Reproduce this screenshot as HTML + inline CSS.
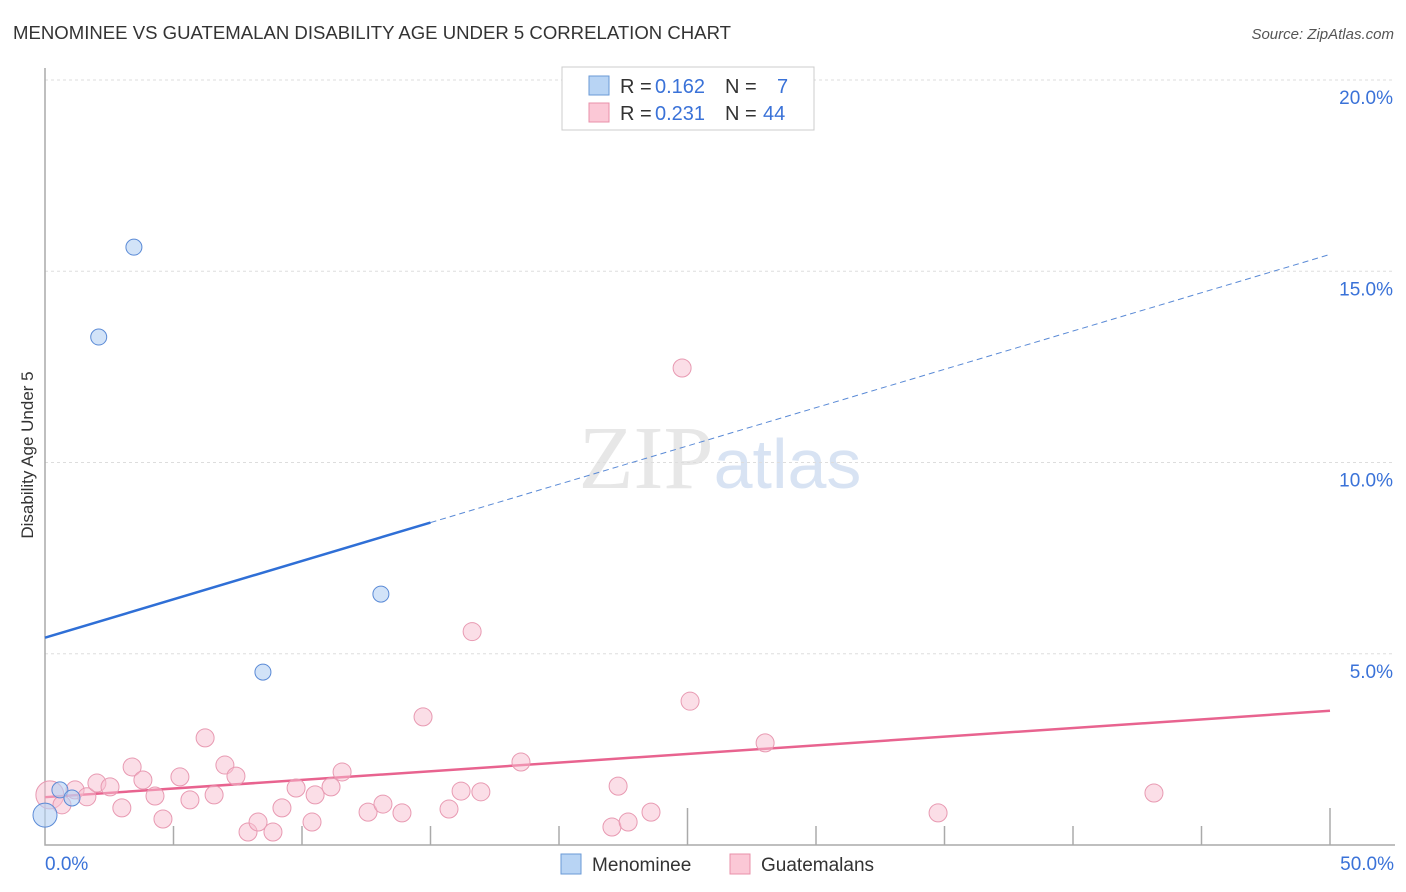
<!DOCTYPE html>
<html><head><meta charset="utf-8"><style>
body{margin:0;background:#fff;font-family:"Liberation Sans",sans-serif}
</style></head><body>
<svg id="chart" width="1406" height="892" xmlns="http://www.w3.org/2000/svg" style="display:block">
<text x="13" y="39" font-size="18" fill="#333" textLength="718" lengthAdjust="spacingAndGlyphs">MENOMINEE VS GUATEMALAN DISABILITY AGE UNDER 5 CORRELATION CHART</text>
<text x="1394" y="39" font-size="15" fill="#555" text-anchor="end" font-style="italic">Source: ZipAtlas.com</text>
<text x="720" y="488" font-size="90" text-anchor="middle" font-family="Liberation Serif" fill="#ddd" opacity="0.7">ZIP<tspan font-family="Liberation Sans" fill="#c8d8ee" font-size="70">atlas</tspan></text>
<text transform="translate(33,455) rotate(-90)" font-size="17" fill="#333" text-anchor="middle">Disability Age Under 5</text>
<g id="grid"></g><g id="axes"></g><g id="lines"></g><g id="pts"></g>
<g>
<rect x="562" y="67" width="252" height="63" fill="#fff" stroke="#ccc"/>
<rect x="589" y="76" width="20" height="19" fill="#b8d4f4" stroke="#6a9ad6"/>
<rect x="589" y="103" width="20" height="19" fill="#fbc8d6" stroke="#e890aa"/>
<text x="620" y="93" font-size="20" fill="#333">R =</text>
<text x="655" y="93" font-size="20" fill="#3a72d8">0.162</text>
<text x="725" y="93" font-size="20" fill="#333">N =</text>
<text x="777" y="93" font-size="20" fill="#3a72d8">7</text>
<text x="620" y="120" font-size="20" fill="#333">R =</text>
<text x="655" y="120" font-size="20" fill="#3a72d8">0.231</text>
<text x="725" y="120" font-size="20" fill="#333">N =</text>
<text x="763" y="120" font-size="20" fill="#3a72d8">44</text>
</g>
<g>
<rect x="561" y="854" width="20" height="20" fill="#b8d4f4" stroke="#6a9ad6"/>
<text x="592" y="871" font-size="19" fill="#333">Menominee</text>
<rect x="730" y="854" width="20" height="20" fill="#fbc8d6" stroke="#e890aa"/>
<text x="761" y="871" font-size="19" fill="#333">Guatemalans</text>
</g>
</svg>
<script>
const yTicks=[5,10,15,20];
const xTickLabels=["0.0%","50.0%"];
const menX=[3.46,2.09,13.07,8.48,0.58,1.05,0];
const menY=[15.63,13.28,6.56,4.52,1.44,1.23,0.78];
const guaX=[0.19,0.66,1.17,1.63,2.02,2.53,2.99,3.39,3.81,4.28,4.59,5.25,5.64,6.23,6.58,7.00,7.43,7.90,8.29,8.87,9.22,9.77,10.39,10.51,11.13,11.56,12.57,13.15,13.89,14.71,15.72,16.19,16.62,16.96,18.52,22.06,22.30,22.69,23.58,24.79,25.10,28.02,34.75,43.15];
const guaY=[1.31,1.05,1.44,1.26,1.62,1.52,0.97,2.04,1.70,1.28,0.68,1.78,1.18,2.80,1.31,2.09,1.80,0.34,0.60,0.34,0.97,1.49,0.60,1.31,1.52,1.91,0.86,1.07,0.84,3.35,0.94,1.41,5.58,1.39,2.17,0.47,1.54,0.60,0.86,12.47,3.76,2.67,0.84,1.36];
const x=v=>45+v*25.7, y=v=>845-v*38.25;
const NS="http://www.w3.org/2000/svg";
function mk(t,a,p){const e=document.createElementNS(NS,t);for(const k in a)e.setAttribute(k,a[k]);p.appendChild(e);return e;}
const grid=document.getElementById('grid'),axes=document.getElementById('axes'),lines=document.getElementById('lines'),pts=document.getElementById('pts');
yTicks.forEach(t=>{const l=mk('line',{x1:45,x2:1395,y1:y(t),y2:y(t),stroke:'#ddd','stroke-dasharray':'3,3'},grid);


const tx=mk('text',{x:1393,y:y(t)+24,'font-size':19,fill:'#3a72d8','text-anchor':'end'},grid);tx.textContent=t.toFixed(1)+'%';

});
const ax=mk('path',{d:`M45,68V845H1395`,fill:'none',stroke:'#aaa','stroke-width':1.5},axes);


for(let i=1;i<=10;i++){const tall=(i==5||i==10);const t=mk('line',{x1:x(i*5),x2:x(i*5),y1:tall?808:826,y2:845,stroke:'#aaa','stroke-width':1.5},axes);

}
[[0,'start',45],[50,'end',1394]].forEach((d,i)=>{const t=mk('text',{x:d[2],y:870,'font-size':19,fill:'#3a72d8','text-anchor':d[1]},axes);t.textContent=xTickLabels[i];

});
const bl=mk('line',{x1:x(0),y1:y(5.42),x2:x(15),y2:y(8.43),stroke:'#2f6fd6','stroke-width':2.5},lines);


const bd=mk('line',{x1:x(15),y1:y(8.43),x2:x(50),y2:y(15.44),stroke:'#5a8ad6','stroke-width':1,'stroke-dasharray':'6,4'},lines);


const pl=mk('line',{x1:x(0),y1:y(1.25),x2:x(50),y2:y(3.51),stroke:'#e8638f','stroke-width':2.5},lines);


guaX.forEach((v,i)=>{const c=mk('circle',{cx:x(v),cy:y(guaY[i]),r:i==0?14:9,fill:'rgba(248,190,208,0.5)',stroke:'#e89ab2','stroke-width':1},pts);

});
menX.forEach((v,i)=>{const c=mk('circle',{cx:x(v),cy:y(menY[i]),r:i==6?12:8,fill:'rgba(180,208,244,0.6)',stroke:'#5a8ad6','stroke-width':1},pts);

});
</script>
</body></html>
